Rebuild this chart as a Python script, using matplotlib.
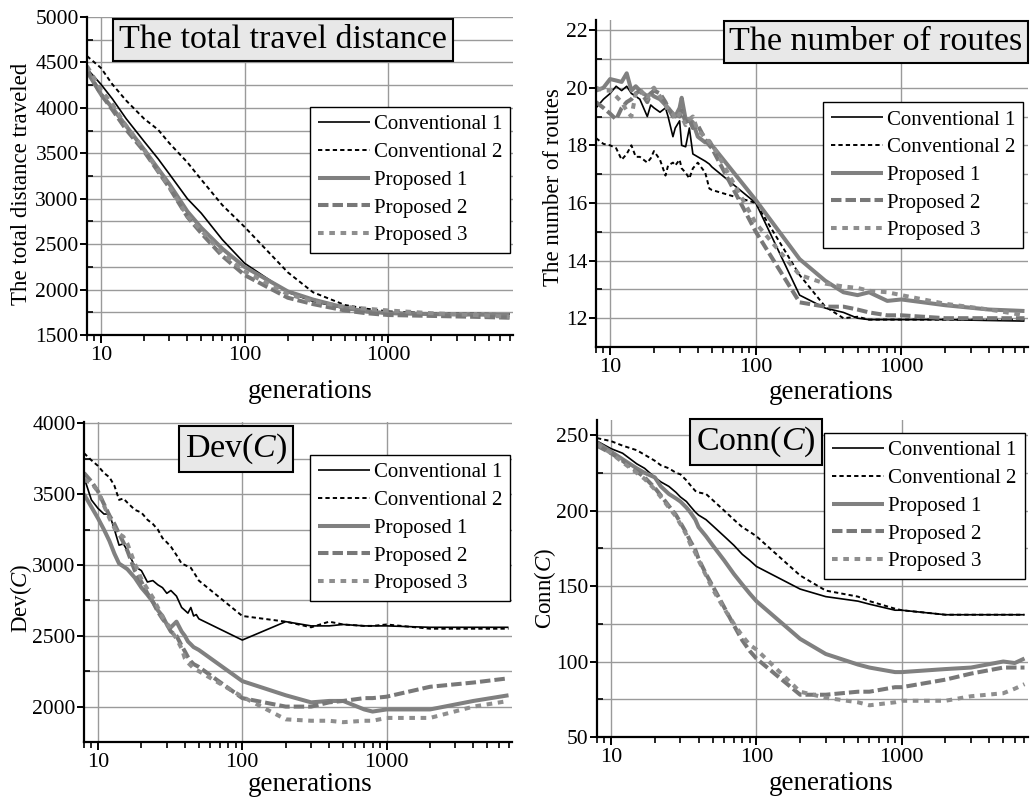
import matplotlib
matplotlib.use("Agg")
import matplotlib.pyplot as plt
from matplotlib.ticker import MultipleLocator, LogLocator, FixedLocator, NullFormatter, FuncFormatter

plt.rcParams['font.family'] = ['Liberation Serif', 'DejaVu Serif']
plt.rcParams['mathtext.fontset'] = 'custom'
plt.rcParams['mathtext.rm'] = 'Liberation Serif'
plt.rcParams['mathtext.it'] = 'Liberation Serif:italic'

# ---------------- data ----------------
labels = ["Conventional 1", "Conventional 2", "Proposed 1", "Proposed 2", "Proposed 3"]

# Panel A: total travel distance
gen_a = [8, 10, 12, 15, 20, 25, 30, 40, 50, 70, 100, 200, 300, 500, 700, 1000, 2000, 4000, 7000]
dist_conv1 = [4430, 4260, 4100, 3880, 3630, 3440, 3270, 3000, 2840, 2550, 2290, 1970, 1870, 1790, 1750, 1735, 1730, 1730, 1730]
dist_conv2 = [4570, 4440, 4260, 4080, 3880, 3760, 3610, 3400, 3210, 2930, 2690, 2190, 1970, 1830, 1790, 1760, 1740, 1735, 1730]
dist_prop1 = [4400, 4150, 4000, 3800, 3540, 3330, 3160, 2860, 2680, 2450, 2250, 1980, 1890, 1800, 1760, 1740, 1730, 1725, 1720]
dist_prop2 = [4420, 4150, 3980, 3760, 3520, 3300, 3120, 2800, 2620, 2370, 2160, 1910, 1840, 1770, 1740, 1720, 1710, 1700, 1690]
dist_prop3 = [4460, 4200, 4040, 3800, 3540, 3310, 3130, 2810, 2650, 2400, 2200, 1950, 1870, 1810, 1790, 1770, 1740, 1720, 1700]

# Panel B: number of routes
gen_b = [8, 9, 10, 11, 12, 13, 14, 15, 16, 18, 19, 20, 22, 24, 25, 27, 28, 30, 31, 33, 35, 37, 40, 45, 48, 50,
         100, 200, 300, 400, 500, 600, 800, 1000, 2000, 4000, 7000]
rt_conv1 = [19.3, 19.6, 19.8, 20.05, 19.9, 20.05, 19.8, 19.7, 19.6, 19.0, 19.4, 19.3, 19.15, 19.3, 19.0, 18.3, 18.6,
            18.85, 18.0, 17.95, 18.6, 17.7, 17.6, 17.45, 17.35, 17.25,
            16.0, 12.8, 12.35, 12.2, 12.0, 11.95, 11.95, 11.95, 11.95, 11.92, 11.9]
rt_conv2 = [18.25, 18.05, 18.0, 17.9, 17.5, 17.7, 18.0, 17.6, 17.6, 17.4, 17.55, 17.8, 17.5, 16.95, 17.3, 17.4, 17.3,
            17.5, 17.2, 17.05, 16.85, 17.2, 17.4, 17.05, 16.5, 16.45,
            16.0, 13.5, 12.4, 12.0, 12.05, 11.95, 11.95, 11.95, 11.95, 11.95, 11.95]
rt_prop1 = [19.9, 20.0, 20.3, 20.25, 20.2, 20.5, 19.9, 20.05, 19.9, 19.7, 19.8, 19.7, 19.6, 19.4, 19.3, 19.1, 19.0,
            19.3, 19.65, 18.9, 18.9, 18.8, 18.3, 18.1, 18.15, 18.0,
            16.1, 14.05, 13.3, 12.9, 12.8, 12.9, 12.6, 12.65, 12.45, 12.3, 12.25]
rt_prop2 = [19.5, 19.3, 19.1, 18.9, 19.3, 19.5, 19.6, 19.8, 19.9, 19.5, 19.8, 19.9, 19.8, 19.5, 19.3, 19.0, 19.1,
            19.0, 19.2, 18.8, 18.9, 18.6, 18.7, 18.2, 18.0, 17.9,
            15.0, 12.55, 12.4, 12.4, 12.3, 12.2, 12.1, 12.1, 12.0, 12.0, 12.0]
rt_prop3 = [20.0, 19.9, 19.9, 19.7, 19.5, 19.2, 19.0, 19.8, 19.95, 19.6, 19.9, 20.0, 19.7, 19.4, 19.2, 19.1, 18.9,
            19.1, 19.0, 18.7, 18.9, 19.0, 18.5, 18.3, 18.1, 18.05,
            15.3, 13.5, 13.2, 13.1, 13.05, 12.95, 12.9, 12.8, 12.5, 12.3, 12.1]

# Panel C: Dev(C)
gen_c = [8, 9, 10, 11, 12, 13, 14, 15, 16, 18, 20, 22, 24, 26, 28, 30, 32, 35, 38, 40, 42, 44, 46, 48, 50,
         100, 200, 300, 400, 500, 700, 800, 1000, 2000, 4000, 7000]
dev_conv1 = [3620, 3460, 3400, 3360, 3360, 3250, 3140, 3150, 3100, 2990, 2960, 2880, 2890, 2860, 2840, 2800, 2820,
             2780, 2700, 2680, 2660, 2700, 2640, 2650, 2620,
             2470, 2600, 2570, 2570, 2580, 2570, 2570, 2570, 2560, 2560, 2560]
dev_conv2 = [3790, 3740, 3700, 3650, 3620, 3560, 3460, 3470, 3440, 3390, 3370, 3320, 3290, 3250, 3190, 3160, 3130,
             3070, 3010, 3000, 2990, 2980, 2950, 2920, 2890,
             2640, 2600, 2560, 2600, 2580, 2570, 2570, 2580, 2550, 2550, 2550]
dev_prop1 = [3500, 3410, 3330, 3250, 3170, 3080, 3010, 2990, 2970, 2910, 2840, 2790, 2740, 2680, 2640, 2580, 2560,
             2600, 2530, 2500, 2460, 2440, 2420, 2410, 2400,
             2180, 2080, 2030, 2040, 2040, 1980, 1965, 1980, 1980, 2040, 2080]
dev_prop2 = [3650, 3590, 3520, 3430, 3350, 3290, 3220, 3160, 3100, 2960, 2880, 2800, 2740, 2670, 2620, 2580, 2530,
             2500, 2430, 2390, 2350, 2320, 2300, 2290, 2280,
             2060, 2000, 2000, 2030, 2040, 2060, 2060, 2070, 2140, 2170, 2200]
dev_prop3 = [3600, 3580, 3520, 3420, 3330, 3260, 3220, 3200, 3150, 3010, 2900, 2830, 2770, 2700, 2630, 2590, 2540,
             2480, 2410, 2340, 2310, 2290, 2270, 2260, 2250,
             2070, 1910, 1900, 1900, 1890, 1900, 1900, 1920, 1920, 2000, 2040]

# Panel D: Conn(C)
gen_d = [8, 10, 12, 15, 17, 20, 22, 25, 28, 30, 33, 35, 38, 40, 45, 50, 60, 70, 80, 90,
         100, 200, 300, 500, 600, 900, 1000, 2000, 3000, 5000, 6000, 7000]
conn_conv1 = [246, 241, 238, 231, 228, 222, 219, 216, 212, 209, 206, 203, 199, 197, 194, 190, 183, 177, 171, 167,
              163, 148, 143, 140, 138, 134, 134, 131, 131, 131, 131, 131]
conn_conv2 = [248, 246, 243, 240, 237, 233, 230, 228, 225, 224, 220, 217, 213, 212, 211, 207, 200, 194, 189, 186,
              183, 157, 147, 143, 140, 135, 134, 131, 131, 131, 131, 131]
conn_prop1 = [245, 239, 234, 228, 225, 222, 216, 211, 208, 206, 202, 199, 194, 189, 183, 177, 167, 158, 151, 145,
              140, 115, 105, 98, 96, 93, 93, 95, 96, 100, 99, 102]
conn_prop2 = [243, 238, 233, 226, 222, 215, 210, 203, 197, 192, 185, 180, 174, 168, 158, 150, 136, 124, 114, 107,
              102, 78, 78, 80, 80, 83, 83, 88, 92, 96, 96, 96]
conn_prop3 = [244, 238, 232, 225, 221, 214, 209, 202, 196, 191, 184, 178, 172, 167, 157, 148, 135, 125, 117, 111,
              108, 80, 76, 73, 71, 73, 74, 74, 77, 79, 82, 85]

# ---------------- style ----------------
styles = [
    dict(color='black', lw=1.2, ls='-'),
    dict(color='black', lw=1.4, ls=(0, (2.2, 1.6))),
    dict(color='#808080', lw=2.9, ls='-'),
    dict(color='#787878', lw=2.9, ls=(0, (2.6, 1.0))),
    dict(color='#8e8e8e', lw=2.9, ls=(0, (1.4, 1.4))),
]

W, H = 1030, 798
fig = plt.figure(figsize=(W / 100, H / 100), dpi=100)


def rect(l, r, t, b):
    return [l / W, (H - b) / H, (r - l) / W, (b - t) / H]


panels = [
    dict(rect=rect(87, 513, 17, 335), gen=gen_a, data=[dist_conv1, dist_conv2, dist_prop1, dist_prop2, dist_prop3],
         ylim=(1500, 5000), major=500, minor=250, ylabel="The total distance traveled",
         title="The total travel distance", tpos=(0.46, 0.928), tsize=24.5,
         leg=(0.523, 0.717), ylab=(-0.129, 0.475), xlab=(0.523, -0.138)),
    dict(rect=rect(596, 1028, 20, 347), gen=gen_b, data=[rt_conv1, rt_conv2, rt_prop1, rt_prop2, rt_prop3],
         ylim=(11, 22.35), major=2, minor=1, ylabel="The number of routes",
         title="The number of routes", tpos=(0.648, 0.933), tsize=24.5,
         leg=(0.525, 0.749), ylab=(-0.074, 0.49), xlab=(0.545, -0.1)),
    dict(rect=rect(84, 512, 422, 742), gen=gen_c, data=[dev_conv1, dev_conv2, dev_prop1, dev_prop2, dev_prop3],
         ylim=(1750, 4010), major=500, minor=250, ylabel=r"Dev($\mathit{C}$)",
         title=r"Dev($\mathit{C}$)", tpos=(0.355, 0.916), tsize=24.5,
         leg=(0.528, 0.897), ylab=(-0.117, 0.45), xlab=(0.528, -0.093)),
    dict(rect=rect(597, 1028, 420, 737), gen=gen_d, data=[conn_conv1, conn_conv2, conn_prop1, conn_prop2, conn_prop3],
         ylim=(50, 260), major=50, minor=25, ylabel=r"Conn($\mathit{C}$)",
         title=r"Conn($\mathit{C}$)", tpos=(0.369, 0.93), tsize=24.5,
         leg=(0.527, 0.959), ylab=(-0.09, 0.47), xlab=(0.543, -0.108)),
]

for p in panels:
    ax = fig.add_axes(p['rect'])
    for vals, lab, st in zip(p['data'], labels, styles):
        ax.plot(p['gen'], vals, label=lab, solid_capstyle='butt', dash_capstyle='butt', **st)
    ax.set_xscale('log')
    ax.set_xlim(8, 7400)
    ax.set_ylim(*p['ylim'])
    ax.xaxis.set_major_locator(FixedLocator([10, 100, 1000]))
    ax.xaxis.set_major_formatter(FuncFormatter(lambda v, pos: f"{int(v)}"))
    ax.xaxis.set_minor_locator(LogLocator(base=10, subs=range(2, 10)))
    ax.xaxis.set_minor_formatter(NullFormatter())
    ax.yaxis.set_major_locator(MultipleLocator(p['major']))
    ax.yaxis.set_minor_locator(MultipleLocator(p['minor']))
    ax.yaxis.set_major_formatter(FuncFormatter(lambda v, pos: f"{int(round(v))}"))
    ax.grid(True, which='major', axis='x', color='#9a9a9a', lw=1.0)
    ax.grid(True, which='both', axis='y', color='#9a9a9a', lw=1.0)
    ax.set_axisbelow(True)
    for s in ('top', 'right'):
        ax.spines[s].set_visible(False)
    for s in ('left', 'bottom'):
        ax.spines[s].set_linewidth(1.6)
    ax.tick_params(axis='x', which='major', direction='out', length=6, width=1.4, labelsize=16, pad=2)
    ax.tick_params(axis='x', which='minor', direction='out', length=4.5, width=1.2)
    ax.tick_params(axis='y', which='major', direction='out', length=5, width=1.4, labelsize=15.5, pad=1)
    ax.tick_params(axis='y', which='minor', direction='in', length=4.5, width=1.2)
    ax.set_xlabel("generations", fontsize=19.5)
    ax.xaxis.set_label_coords(*p['xlab'])
    ax.set_ylabel(p['ylabel'], fontsize=16.5)
    ax.yaxis.set_label_coords(*p['ylab'])
    leg = ax.legend(loc='upper left', bbox_to_anchor=p['leg'], fontsize=15, frameon=True, fancybox=False,
                    edgecolor='black', framealpha=1, handlelength=2.5, handletextpad=0.2, labelspacing=0.39,
                    borderpad=0.38, borderaxespad=0)
    leg.get_frame().set_linewidth(1.0)
    leg.set_zorder(5)
    ax.text(p['tpos'][0], p['tpos'][1], p['title'], transform=ax.transAxes, fontsize=p['tsize'],
            ha='center', va='center', zorder=6,
            bbox=dict(boxstyle='square,pad=0.17', facecolor='#e8e8e8', edgecolor='black', lw=1.5))

fig.savefig("out.png", dpi=100)
